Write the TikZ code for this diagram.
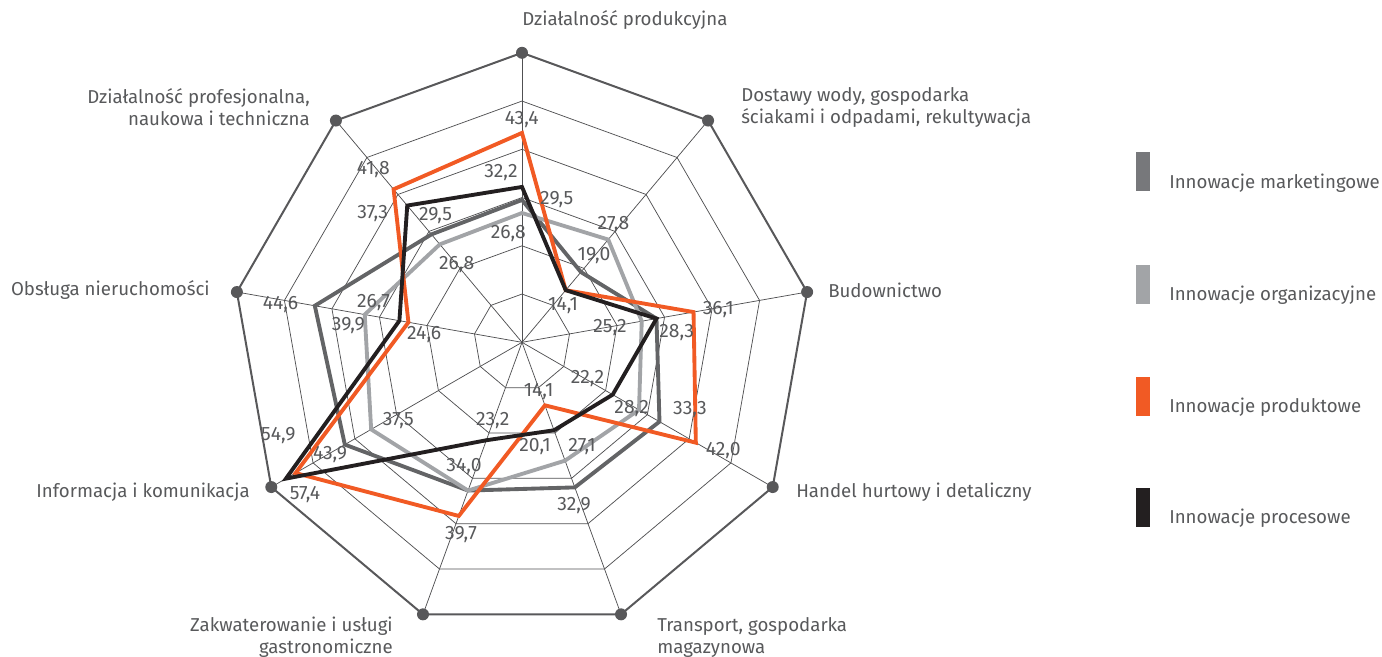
\documentclass[tikz,border=0pt]{standalone}
\usepackage{fontspec}
\setmainfont{Fira Sans}
\definecolor{txt}{HTML}{58595B}
\definecolor{gridc}{HTML}{505052}
\definecolor{dotc}{HTML}{58585A}
\definecolor{markc}{HTML}{636466}
\definecolor{orgc}{HTML}{A2A4A7}
\definecolor{prodc}{HTML}{F15A24}
\definecolor{procc}{HTML}{231F20}
\definecolor{markleg}{HTML}{77787B}
\begin{document}
\begin{tikzpicture}[x=0.75pt,y=-0.75pt,
  lbl/.style={text=txt, font=\fontsize{14}{16.5}\selectfont, inner sep=0pt},
  val/.style={text=txt, font=\fontsize{14.5}{16.5}\selectfont, inner sep=0pt},
  gridline/.style={draw=gridc, line width=0.55pt},
  outerline/.style={draw=dotc, line width=1.5pt},
  series/.style={line width=2.9pt, line join=miter},
  vdot/.style={circle, fill=dotc, minimum size=9pt, inner sep=0pt},
  legbar/.style={minimum width=10.5pt, minimum height=29.25pt, inner sep=0pt}]
\useasboundingbox (0,0) rectangle (1382,657);
\begin{scope}[shift={(522,342.3)}]
  \coordinate (O) at (0,0);
  \foreach \k in {1,...,5} {
    \draw[gridline] ({-90}:{\k*48.25}) \foreach \i in {1,...,8} { -- ({40*\i-90}:{\k*48.25}) } -- cycle;
  }
  \foreach \i in {0,...,8} {
    \coordinate (V\i) at ({40*\i-90}:289.5);
    \draw[gridline] (O) -- (V\i);
  }
  \draw[outerline] (V0) -- (V1) -- (V2) -- (V3) -- (V4) -- (V5) -- (V6) -- (V7) -- (V8) -- cycle;
  \foreach \i in {0,...,8} \node[vdot] (D\i) at (V\i) {};
  % data points (effective values, scale 60 = outer ring)
  \foreach \v [count=\i from 0] in {29.5,19.0,28.3,32.9,32.0,32.7,42.4,43.6,29.2}
    \coordinate (M\i) at ({40*\i-90}:{\v*4.825});
  \foreach \v [count=\i from 0] in {26.8,27.8,25.2,28.0,26.1,32.7,36.1,33.1,26.5}
    \coordinate (G\i) at ({40*\i-90}:{\v*4.825});
  \foreach \v [count=\i from 0] in {43.4,14.1,36.1,41.6,13.9,38.3,54.2,23.9,41.4}
    \coordinate (P\i) at ({40*\i-90}:{\v*4.825});
  \foreach \v [count=\i from 0] in {32.2,14.1,28.3,21.7,19.4,21.6,56.5,25.8,37.0}
    \coordinate (R\i) at ({40*\i-90}:{\v*4.825});
  \draw[series, draw=markc] (M0) -- (M1) -- (M2) -- (M3) -- (M4) -- (M5) -- (M6) -- (M7) -- (M8) -- cycle;
  \draw[series, draw=orgc] (G0) -- (G1) -- (G2) -- (G3) -- (G4) -- (G5) -- (G6) -- (G7) -- (G8) -- cycle;
  \draw[series, draw=prodc] (P0) -- (P1) -- (P2) -- (P3) -- (P4) -- (P5) -- (P6) -- (P7) -- (P8) -- cycle;
  \draw[series, draw=procc] (R0) -- (R1) -- (R2) -- (R3) -- (R4) -- (R5) -- (R6) -- (R7) -- (R8) -- cycle;
\end{scope}
% value labels
\node[val] (a0a) at (521.7,120) {43,4};
\node[val] (a0b) at (501,173) {32,2};
\node[val] (a0c) at (556.7,199.3) {29,5};
\node[val] (a0d) at (508.3,233.3) {26,8};
\node[val] (a1a) at (613.5,224.5) {27,8};
\node[val] (a1b) at (594,256) {19,0};
\node[val] (a1c) at (563,305.5) {14,1};
\node[val] (a2a) at (718.3,309.3) {36,1};
\node[val] (a2b) at (676.7,332.7) {28,3};
\node[val] (a2c) at (610,327.3) {25,2};
\node[val] (a3a) at (587.5,379) {22,2};
\node[val] (a3b) at (631.7,408.3) {28,2};
\node[val] (a3c) at (690,410) {33,3};
\node[val] (a3d) at (723.3,451) {42,0};
\node[val] (a4a) at (538.7,391.2) {14,1};
\node[val] (a4b) at (535,446.7) {20,1};
\node[val] (a4c) at (582,447) {27,1};
\node[val] (a4d) at (574,505.5) {32,9};
\node[val] (a5a) at (492.7,420.7) {23,2};
\node[val] (a5b) at (464,466.3) {34,0};
\node[val] (a5c) at (461,535) {39,7};
\node[val] (a6a) at (278.3,436) {54,9};
\node[val] (a6b) at (330,455) {43,9};
\node[val] (a6c) at (305,495) {57,4};
\node[val] (a6d) at (398.3,420.7) {37,5};
\node[val] (a7a) at (280.5,304.7) {44,6};
\node[val] (a7b) at (373.5,302.5) {26,7};
\node[val] (a7c) at (348.3,325.7) {39,9};
\node[val] (a7d) at (424.2,335) {24,6};
\node[val] (a8a) at (373.3,169.3) {41,8};
\node[val] (a8b) at (372.7,213.3) {37,3};
\node[val] (a8c) at (435.5,215.5) {29,5};
\node[val] (a8d) at (456.7,264.2) {26,8};
% category labels
\node[lbl, anchor=west] (c0) at (522,20) {Działalność produkcyjna};
\node[lbl, anchor=west, align=left] (c1) at (741,107) {Dostawy wody, gospodarka\\ściakami i odpadami, rekultywacja};
\node[lbl, anchor=west] (c2) at (828,290) {Budownictwo};
\node[lbl, anchor=west] (c3) at (796,492) {Handel hurtowy i detaliczny};
\node[lbl, anchor=west, align=left] (c4) at (657,637) {Transport, gospodarka\\magazynowa};
\node[lbl, anchor=east, align=right] (c5) at (393,637) {Zakwaterowanie i usługi\\gastronomiczne};
\node[lbl, anchor=east] (c6) at (250,492) {Informacja i komunikacja};
\node[lbl, anchor=east] (c7) at (210,290) {Obsługa nieruchomości};
\node[lbl, anchor=east, align=right] (c8) at (310,107) {Działalność profesjonalna,\\naukowa i techniczna};
% legend
\node[legbar, fill=markleg] (lb1) at (1143,171.2) {};
\node[legbar, fill=orgc] (lb2) at (1143,284.4) {};
\node[legbar, fill=prodc] (lb3) at (1143,396.5) {};
\node[legbar, fill=procc] (lb4) at (1143,507.2) {};
\node[lbl, anchor=west] (lt1) at (1169,183.3) {Innowacje marketingowe};
\node[lbl, anchor=west] (lt2) at (1169,295.7) {Innowacje organizacyjne};
\node[lbl, anchor=west] (lt3) at (1169,407.7) {Innowacje produktowe};
\node[lbl, anchor=west] (lt4) at (1169,518.3) {Innowacje procesowe};
\end{tikzpicture}
\end{document}
